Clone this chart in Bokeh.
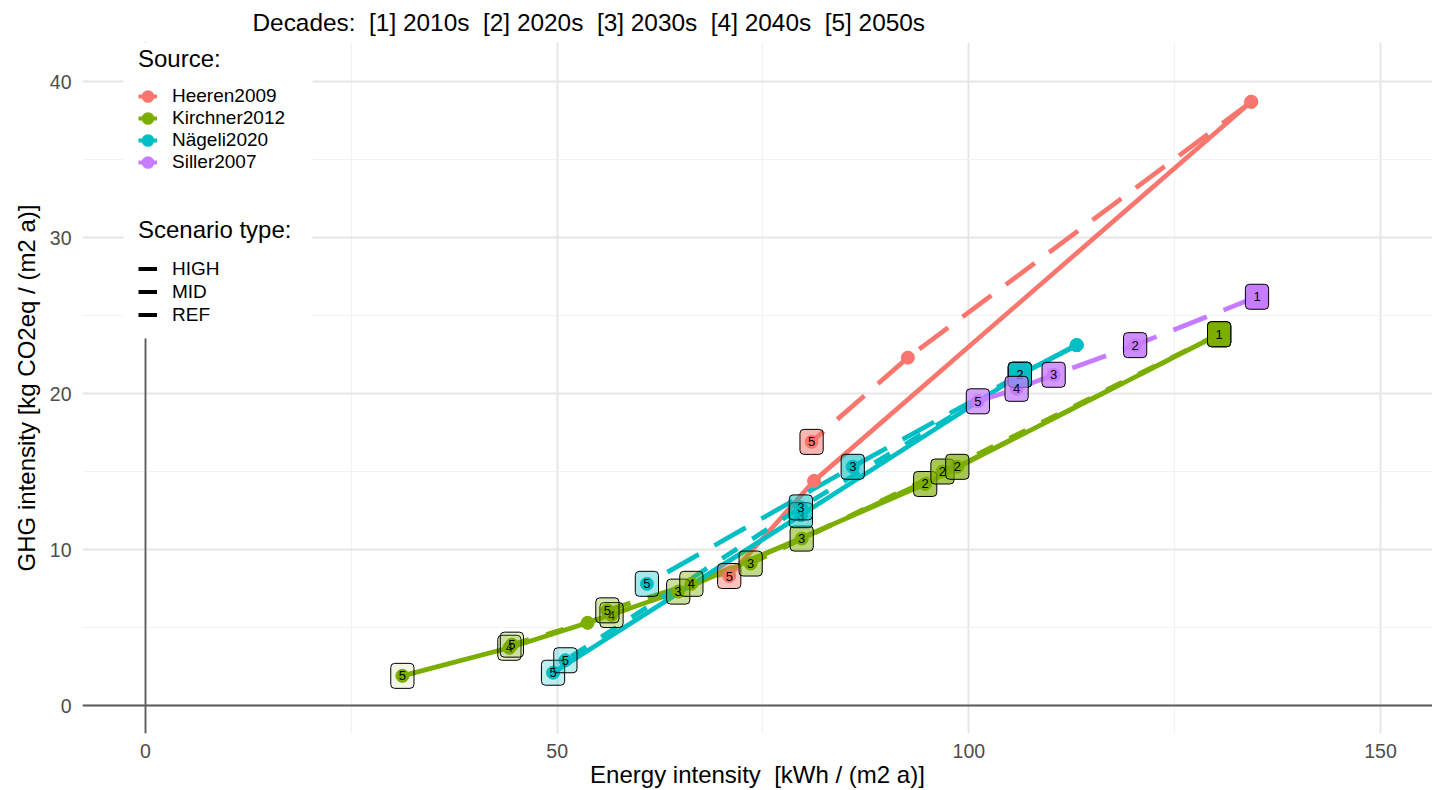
from bokeh.plotting import figure
from bokeh.models import (ColumnDataSource, Range1d, FixedTicker, Span, BoxAnnotation,
                          Legend, LegendItem)
from bokeh.core.properties import value
from bokeh.embed import file_html
from bokeh.resources import INLINE

FONT = "Liberation Sans"
SP2 = "\u00a0 "   # a double space that survives SVG whitespace collapsing

# ---------------- texts / ticks ----------------
title_text = SP2.join(["Decades:", "[1] 2010s", "[2] 2020s", "[3] 2030s", "[4] 2040s", "[5] 2050s"])
x_label = "Energy intensity" + SP2 + "[kWh / (m2 a)]"
y_label = "GHG intensity [kg CO2eq / (m2 a)]"

x_ticks = [0, 50, 100, 150]
x_minor = [25, 75, 125]
y_ticks = [0, 10, 20, 30, 40]
y_minor = [5, 15, 25, 35]

sources = ["Heeren2009", "Kirchner2012", "Nägeli2020", "Siller2007"]
source_colors = ["#F8766D", "#7CAE00", "#00BFC4", "#C77CFF"]
scenarios = ["HIGH", "MID", "REF"]

# ---------------- data ----------------
# Heeren2009
heeren_high_energy = [134.3, 81.2, 70.9]
heeren_high_ghg = [38.7, 14.4, 8.3]
heeren_high_decade = ["", "", "5"]
heeren_ref_energy = [134.3, 92.6, 80.9]
heeren_ref_ghg = [38.7, 22.3, 16.9]
heeren_ref_decade = ["", "", "5"]
# Kirchner2012
kirchner_high_energy = [130.4, 94.7, 64.7, 53.7, 44.2, 31.2]
kirchner_high_ghg = [23.8, 14.2, 7.3, 5.3, 3.7, 1.9]
kirchner_high_decade = ["1", "2", "3", "", "4", "5"]
kirchner_mid_energy = [130.4, 96.8, 73.5, 56.6, 44.5]
kirchner_mid_ghg = [23.8, 15.0, 9.1, 5.8, 3.9]
kirchner_mid_decade = ["1", "2", "3", "4", "5"]
kirchner_ref_energy = [130.4, 98.6, 79.7, 66.3, 56.1]
kirchner_ref_ghg = [23.8, 15.3, 10.7, 7.8, 6.1]
kirchner_ref_decade = ["1", "2", "3", "4", "5"]
# Nägeli2020
naegeli_high_energy = [113.1, 106.2, 79.6, 49.5]
naegeli_high_ghg = [23.1, 21.2, 12.2, 2.1]
naegeli_high_decade = ["", "2", "3", "5"]
naegeli_mid_energy = [113.1, 106.2, 79.6, 51.0]
naegeli_mid_ghg = [23.1, 21.2, 12.7, 2.9]
naegeli_mid_decade = ["", "2", "3", "5"]
naegeli_ref_energy = [113.1, 106.2, 85.9, 60.9]
naegeli_ref_ghg = [23.1, 21.2, 15.3, 7.8]
naegeli_ref_decade = ["", "2", "3", "5"]
# Siller2007
siller_ref_energy = [135.0, 120.2, 110.3, 105.8, 101.1]
siller_ref_ghg = [26.2, 23.1, 21.2, 20.3, 19.5]
siller_ref_decade = ["1", "2", "3", "4", "5"]

series = [
    ("Heeren2009", "HIGH", heeren_high_energy, heeren_high_ghg, heeren_high_decade),
    ("Heeren2009", "REF", heeren_ref_energy, heeren_ref_ghg, heeren_ref_decade),
    ("Kirchner2012", "HIGH", kirchner_high_energy, kirchner_high_ghg, kirchner_high_decade),
    ("Kirchner2012", "MID", kirchner_mid_energy, kirchner_mid_ghg, kirchner_mid_decade),
    ("Kirchner2012", "REF", kirchner_ref_energy, kirchner_ref_ghg, kirchner_ref_decade),
    ("Nägeli2020", "HIGH", naegeli_high_energy, naegeli_high_ghg, naegeli_high_decade),
    ("Nägeli2020", "MID", naegeli_mid_energy, naegeli_mid_ghg, naegeli_mid_decade),
    ("Nägeli2020", "REF", naegeli_ref_energy, naegeli_ref_ghg, naegeli_ref_decade),
    ("Siller2007", "REF", siller_ref_energy, siller_ref_ghg, siller_ref_decade),
]

# ---------------- styles / layout ----------------
color_of = dict(zip(sources, source_colors))
dash_of = {"HIGH": "solid", "MID": "18 18", "REF": "36 18"}

W, H = 1432, 790
ML, MR, MT, MB = 82, 0, 42, 57
frame_w = W - ML - MR
frame_h = H - MT - MB
x_per_px = 1 / 8.2333
y_per_px = 1 / 15.6
x0 = -63 * x_per_px           # frame left edge (data)
y1 = 663 * y_per_px           # frame top edge (data)
x_end = x0 + frame_w * x_per_px
y0 = y1 - frame_h * y_per_px

p = figure(width=W, height=H, output_backend="svg", toolbar_location=None,
           x_range=Range1d(x0, x_end), y_range=Range1d(y0, y1),
           min_border_left=ML, min_border_right=MR, min_border_top=MT, min_border_bottom=MB,
           background_fill_color="white", border_fill_color="white", outline_line_color=None)

# title
p.title.text = title_text
p.title.text_font = FONT
p.title.text_font_size = "24.4px"
p.title.text_font_style = "normal"
p.title.text_color = "black"
p.title.align = "left"
p.title.offset = 170
p.title.standoff = 13

# axes
p.xaxis.ticker = FixedTicker(ticks=x_ticks, minor_ticks=x_minor)
p.yaxis.ticker = FixedTicker(ticks=y_ticks, minor_ticks=y_minor)
for ax in (p.xaxis, p.yaxis):
    ax.axis_line_color = None
    ax.major_tick_line_color = None
    ax.minor_tick_line_color = None
    ax.major_tick_out = 0
    ax.major_tick_in = 0
    ax.minor_tick_out = 0
    ax.minor_tick_in = 0
    ax.major_label_text_font = FONT
    ax.major_label_text_font_size = "19.5px"
    ax.major_label_text_color = "#4D4D4D"
    ax.axis_label_text_font = FONT
    ax.axis_label_text_font_size = "24px"
    ax.axis_label_text_font_style = "normal"
    ax.axis_label_text_color = "black"
p.xaxis.axis_label = x_label
p.yaxis.axis_label = y_label
p.xaxis.major_label_standoff = 10
p.xaxis.axis_label_standoff = 0
p.yaxis.major_label_standoff = 11
p.yaxis.axis_label_standoff = 7

# grid
for g in (p.xgrid, p.ygrid):
    g.grid_line_color = "#E6E6E6"
    g.grid_line_width = 2
    g.minor_grid_line_color = "#F2F2F2"
    g.minor_grid_line_width = 1.2

# zero lines
p.add_layout(Span(location=0, dimension="width", line_color="#5C5C5C", line_width=1.8, level="underlay"))
p.add_layout(Span(location=0, dimension="height", line_color="#5C5C5C", line_width=1.8, level="underlay"))

# legend background (white box hiding the grid behind the legends)
def px_to_x(px):
    return x0 + (px - ML) * x_per_px

def py_to_y(py):
    return y1 - (py - MT) * y_per_px

p.add_layout(BoxAnnotation(left=px_to_x(123), right=px_to_x(312), bottom=py_to_y(338),
                           fill_color="white", fill_alpha=1.0, line_color=None, level="underlay"))

# lines
for src, scen, xs, ys, ds in series:
    p.line(xs, ys, line_color=color_of[src], line_width=4.7, line_dash=dash_of[scen],
           line_join="round")

# points
pt_x, pt_y, pt_c = [], [], []
for src, scen, xs, ys, ds in series:
    pt_x += xs
    pt_y += ys
    pt_c += [color_of[src]] * len(xs)
p.scatter(x="x", y="y", color="c", size=13, source=ColumnDataSource(dict(x=pt_x, y=pt_y, c=pt_c)))

# labels
lx, ly, lt, lc = [], [], [], []
for src, scen, xs, ys, ds in series:
    for xv, yv, dv in zip(xs, ys, ds):
        if dv:
            lx.append(xv); ly.append(yv); lt.append(dv); lc.append(color_of[src])
xmin, xmax = min(lx), max(lx)
la = [0.1 + 0.9 * (v - xmin) / (xmax - xmin) for v in lx]
p.text(x="x", y="y", text="t", source=ColumnDataSource(dict(x=lx, y=ly, t=lt, c=lc, a=la)),
       text_font=value(FONT), text_font_size="13px", text_color="black",
       text_align="center", text_baseline="middle",
       background_fill_color="c", background_fill_alpha="a",
       border_line_color="black", border_line_width=1,
       padding=dict(left=8, right=8, top=8, bottom=8), border_radius=4)

# legends (dummy renderers carry the key styles)
nan = float("nan")
src_items = []
for s, c in zip(sources, source_colors):
    r1 = p.line(x=[nan], y=[nan], line_color=c, line_width=4)
    r2 = p.scatter(x=[nan], y=[nan], size=12, fill_color=c, line_color=c, line_width=5)
    src_items.append(LegendItem(label=s, renderers=[r1, r2]))
scen_items = []
for s in scenarios:
    r = p.line(x=[nan], y=[nan], line_color="black", line_width=4)
    scen_items.append(LegendItem(label=s, renderers=[r]))

def make_legend(items, title, loc, row_h, standoff):
    return Legend(items=items, title=title, location=loc,
                  title_text_font=FONT, title_text_font_size="24px", title_text_font_style="normal",
                  title_text_color="black", title_standoff=standoff,
                  label_text_font=FONT, label_text_font_size="19px", label_text_color="black",
                  glyph_width=19, glyph_height=row_h, label_height=row_h, spacing=0,
                  padding=0, margin=0, label_standoff=15,
                  background_fill_alpha=0, border_line_alpha=0)

frame_bottom = H - MB
p.add_layout(make_legend(src_items, "Source:", (138 - ML, frame_bottom - 173), 22, 12))
p.add_layout(make_legend(scen_items, "Scenario type:", (138 - ML, frame_bottom - 326), 23, 13))

open("out.html", "w").write(file_html(p, INLINE))
